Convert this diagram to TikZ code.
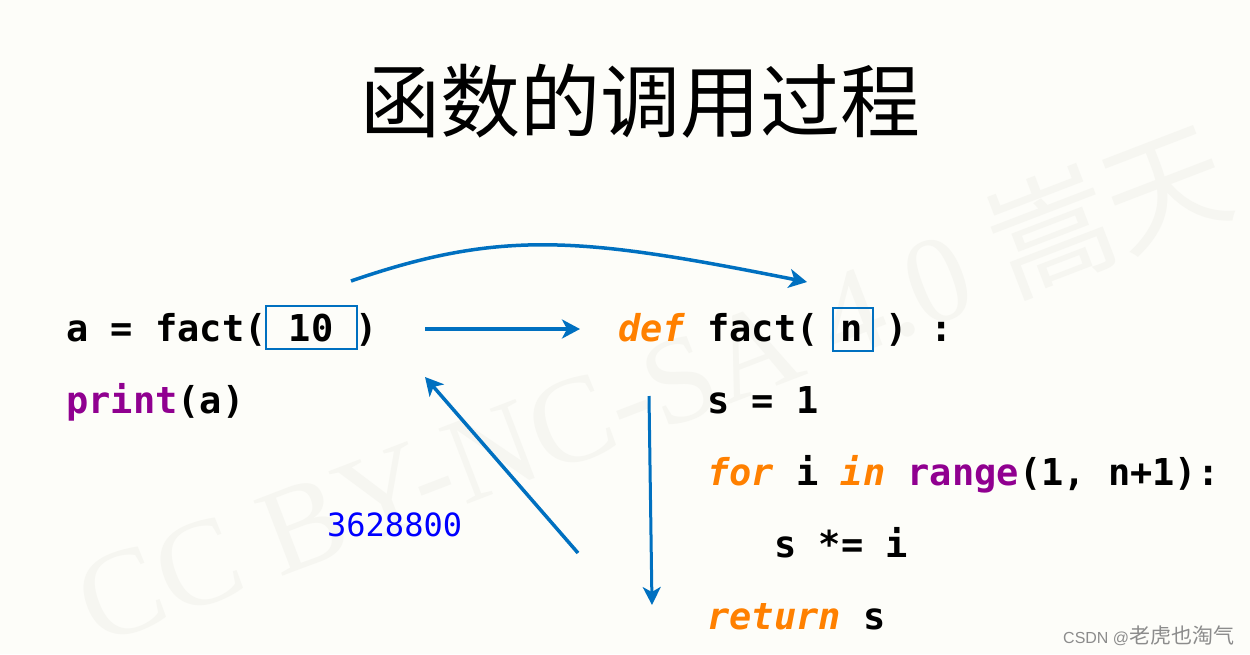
\documentclass[tikz,border=0pt]{standalone}
\usepackage{fontspec}
\usetikzlibrary{arrows.meta}
\setmainfont{Liberation Serif}
\newfontfamily\codefont{DejaVu Sans Mono}[BoldFont={DejaVu Sans Mono Bold},BoldItalicFont={DejaVu Sans Mono Bold Oblique},ItalicFont={DejaVu Sans Mono Oblique}]
\newfontfamily\cjkfont{Noto Sans CJK SC}
\newfontfamily\wmfont{Liberation Serif}
\newfontfamily\arialfont{Liberation Sans}
\definecolor{bgcol}{RGB}{253,253,249}
\definecolor{arrowblue}{RGB}{0,112,192}
\definecolor{kworange}{RGB}{255,128,0}
\definecolor{fnpurple}{RGB}{144,0,144}
\definecolor{valblue}{RGB}{0,0,255}
\definecolor{wmcol}{RGB}{246,246,241}
\definecolor{csdngray}{RGB}{140,140,140}
\newcommand\pykw[1]{\textcolor{kworange}{\itshape #1}}
\newcommand\pyfn[1]{\textcolor{fnpurple}{#1}}
\frenchspacing
\tikzset{
  codeline/.style={anchor=base west, inner sep=0pt, text=black,
    font=\codefont\bfseries\fontsize{37}{44}\selectfont},
  argbox/.style={draw=arrowblue, line width=1.6pt, inner sep=0pt, rectangle},
  flow/.style={draw=arrowblue, line width=3.5pt,
    -{Stealth[length=18pt,width=19pt,inset=5pt]}},
  thinflow/.style={draw=arrowblue, line width=3pt,
    -{Stealth[length=18pt,width=18pt,inset=5pt]}}
}
\begin{document}
\begin{tikzpicture}[x=1pt,y=-1pt]
\fill[bgcol] (0,0) rectangle (1250,654);
\useasboundingbox (0,0) rectangle (1250,654);
% watermark
\node[text=wmcol, font=\wmfont\fontsize{123}{126}\selectfont, rotate=21, inner sep=0pt] (wm) at (652,384) {CC BY-NC-SA 4.0 {\cjkfont 嵩天}};
% title
\node[anchor=base, inner sep=0pt, font=\cjkfont\fontsize{80}{90}\selectfont] (title) at (640,131) {函数的调用过程};
% caller code
\node[codeline] (call) at (66,341) {a = fact( 10 )};
\node[codeline] (print) at (66,413) {\pyfn{print}(a)};
% callee code
\node[codeline] (def) at (618,341) {\pykw{def} fact( n ) :};
\node[codeline] (s1) at (707,413) {s = 1};
\node[codeline] (for) at (707,485) {\pykw{for} i \pykw{in} \pyfn{range}(1, n+1):};
\node[codeline] (mul) at (774,557) {s *= i};
\node[codeline] (ret) at (707,629) {\pykw{return} s};
% argument boxes
\node[argbox, minimum width=91pt, minimum height=43pt] (box10) at (311.5,327.5) {};
\node[argbox, minimum width=40pt, minimum height=43pt] (boxn) at (853,329.5) {};
% return value
\node[anchor=base west, inner sep=0pt, text=valblue, font=\codefont\fontsize{32}{38}\selectfont] (val) at (327,536) {3628800};
% connectors
\coordinate (curveA) at (351,281);
\coordinate (curveB) at (807,282);
\coordinate (callA) at (425,329);
\coordinate (callB) at (580,329);
\coordinate (retA) at (578,553);
\coordinate (retB) at (425,377);
\coordinate (runA) at (649,396);
\coordinate (runB) at (652,605);
\draw[flow] (curveA) .. controls (502,229) and (581,237) .. (curveB);
\draw[flow] (callA) -- (callB);
\draw[flow] (retA) -- (retB);
\draw[thinflow] (runA) -- (runB);
% csdn mark
\node[anchor=base west, inner sep=0pt, text=csdngray] (csdn) at (1063,643) {{\arialfont\fontsize{16}{18}\selectfont CSDN @}{\cjkfont\fontsize{21}{24}\selectfont 老虎也淘气}};
\end{tikzpicture}
\end{document}
